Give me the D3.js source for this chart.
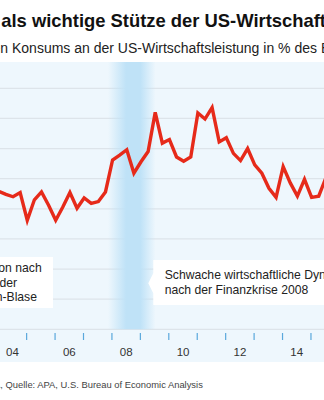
<!DOCTYPE html>
<html>
<head>
<meta charset="utf-8">
<script src="https://cdn.jsdelivr.net/npm/d3@7"></script>
<style>
  html, body { margin: 0; padding: 0; background: #fff; }
  svg { display: block; font-family: "Liberation Sans", Arial, sans-serif; }
</style>
</head>
<body>
<svg id="chart" width="324" height="400"></svg>
<script>
// ---- data ----
const periods = ["2003Q4",
  "2004Q1","2004Q2","2004Q3","2004Q4",
  "2005Q1","2005Q2","2005Q3","2005Q4",
  "2006Q1","2006Q2","2006Q3","2006Q4",
  "2007Q1","2007Q2","2007Q3","2007Q4",
  "2008Q1","2008Q2","2008Q3","2008Q4",
  "2009Q1","2009Q2","2009Q3","2009Q4",
  "2010Q1","2010Q2","2010Q3","2010Q4",
  "2011Q1","2011Q2","2011Q3","2011Q4",
  "2012Q1","2012Q2","2012Q3","2012Q4",
  "2013Q1","2013Q2","2013Q3","2013Q4",
  "2014Q1","2014Q2","2014Q3","2014Q4",
  "2015Q1","2015Q2","2015Q3","2015Q4"];
const shareValues = [67.31,
  67.29,67.24,67.20,67.27,
  66.81,67.15,67.28,67.06,
  66.81,67.03,67.27,67.01,
  67.18,67.09,67.12,67.28,
  67.81,67.89,67.98,67.59,
  67.78,67.95,68.60,68.09,
  68.15,67.86,67.79,67.86,
  68.59,68.49,68.68,68.11,
  68.18,67.92,67.80,68.00,
  67.73,67.59,67.34,67.19,
  67.70,67.43,67.21,67.49,
  67.19,67.21,67.51,67.64];
const gridValues = [65, 65.5, 66, 66.5, 67, 67.5, 68, 68.5, 69];
const yearTicks = [2005,2006,2007,2008,2009,2010,2011,2012,2013,2014,2015];
const yearLabels = ["04","06","08","10","12","14"];
const yearLabelValues = [2004.5,2006.5,2008.5,2010.5,2012.5,2014.5];
const crisisBand = [2007.88, 2009.55];

const titlePrefix = "Privater Konsum ";
const titleText = "als wichtige Stütze der US-Wirtschaft";
const subPrefix = "Anteil des private";
const subText = "n Konsums an der US-Wirtschaftsleistung in % des BIP";
const footPrefix = "Grafik: APA";
const footText = ", Quelle: APA, U.S. Bureau of Economic Analysis";
const noteLeft = ["Rezession nach", "dem Platzen der", "Internetaktien-Blase"];
const noteRight = ["Schwache wirtschaftliche Dynamik", "nach der Finanzkrise 2008"];

// ---- setup ----
const svg = d3.select("#chart");
const W = 324;
const plotTop = 62, plotBottom = 362;

const toYear = p => +p.slice(0,4) + (+p.slice(5) - 1) / 4 + 0.04;
const data = periods.map((p, i) => ({ t: toYear(p), v: shareValues[i] }));

const x = d3.scaleLinear().domain([2004, 2016]).range([-2.3, 338.9]);
const y = d3.scaleLinear().domain([65, 69]).range([329.3, 88.3]);

// background
svg.append("rect").attr("x", 0).attr("y", 0).attr("width", W).attr("height", 400).attr("fill", "#fff");
svg.append("rect").attr("x", 0).attr("y", plotTop).attr("width", W).attr("height", plotBottom - plotTop)
  .attr("fill", "#eef7fd");

// crisis band gradient
const defs = svg.append("defs");
const grad = defs.append("linearGradient").attr("id", "band").attr("x1", "0").attr("x2", "1").attr("y1", "0").attr("y2", "0");
grad.append("stop").attr("offset", "0%").attr("stop-color", "#bfe2f7").attr("stop-opacity", 0);
grad.append("stop").attr("offset", "38%").attr("stop-color", "#bfe2f7").attr("stop-opacity", 1);
grad.append("stop").attr("offset", "68%").attr("stop-color", "#bfe2f7").attr("stop-opacity", 1);
grad.append("stop").attr("offset", "100%").attr("stop-color", "#bfe2f7").attr("stop-opacity", 0);

// gridlines
svg.append("g").selectAll("line").data(gridValues).join("line")
  .attr("x1", 0).attr("x2", W)
  .attr("y1", d => y(d)).attr("y2", d => y(d))
  .attr("stroke", "#dde4ea").attr("stroke-width", 1.2);

svg.append("rect")
  .attr("x", x(crisisBand[0])).attr("width", x(crisisBand[1]) - x(crisisBand[0]))
  .attr("y", plotTop).attr("height", y(65) - plotTop)
  .attr("fill", "url(#band)");

// axes
const tickAxis = d3.axisBottom(x).tickValues(yearTicks).tickSize(7).tickFormat("");
const gt = svg.append("g").attr("transform", "translate(0,333)").call(tickAxis);
gt.select(".domain").remove();
gt.selectAll(".tick line").attr("stroke", "#5aa8dc").attr("stroke-width", 1.2);

const labelAxis = d3.axisBottom(x).tickValues(yearLabelValues).tickSize(0).tickPadding(0)
  .tickFormat((d, i) => yearLabels[i]);
const gl = svg.append("g").attr("transform", "translate(0,347.5)").call(labelAxis);
gl.select(".domain").remove();
gl.selectAll(".tick text").attr("font-size", 11.5).attr("fill", "#333")
  .attr("font-family", "Liberation Sans, Arial, sans-serif");

// line
const line = d3.line().x(d => x(d.t)).y(d => y(d.v));
svg.append("path").datum(data).attr("d", line)
  .attr("fill", "none").attr("stroke", "#e62a1a").attr("stroke-width", 3.4)
  .attr("stroke-linejoin", "miter");

// annotations
const lb = svg.append("g");
lb.append("rect").attr("x", -10).attr("y", 257).attr("width", 63).attr("height", 51).attr("fill", "#fff");
const leftEnds = [41.7, 17, 37];
const leftBase = [272, 286.5, 301];
noteLeft.forEach((t, i) => {
  lb.append("text").attr("x", leftEnds[i]).attr("y", leftBase[i]).attr("text-anchor", "end")
    .attr("font-size", 12.2).attr("fill", "#222").text(t);
});

const rb = svg.append("g");
rb.append("path")
  .attr("d", "M153.3,260 L340,260 L340,305 L153.3,305 L153.3,293.3 L148.3,283.3 L153.3,273.3 Z")
  .attr("fill", "#fff");
noteRight.forEach((t, i) => {
  rb.append("text").attr("x", 164.7).attr("y", [279.3, 294][i])
    .attr("font-size", 12.2).attr("fill", "#222").text(t);
});

// title, subtitle, footer (left parts cropped out of view)
function croppedText(prefix, text, targetX, baseY, size, weight, color) {
  const el = svg.append("text").attr("y", baseY).attr("font-size", size)
    .attr("font-weight", weight).attr("fill", color).text(prefix + text);
  const w = el.node().getSubStringLength(0, prefix.length);
  el.attr("x", targetX - w);
  return el;
}
croppedText(titlePrefix, titleText, 1.2, 26.7, 18.4, "bold", "#111");
croppedText(subPrefix, subText, 0.3, 53, 14, "normal", "#222");
croppedText(footPrefix, footText, 0.3, 388, 9.4, "normal", "#444");
</script>
</body>
</html>
